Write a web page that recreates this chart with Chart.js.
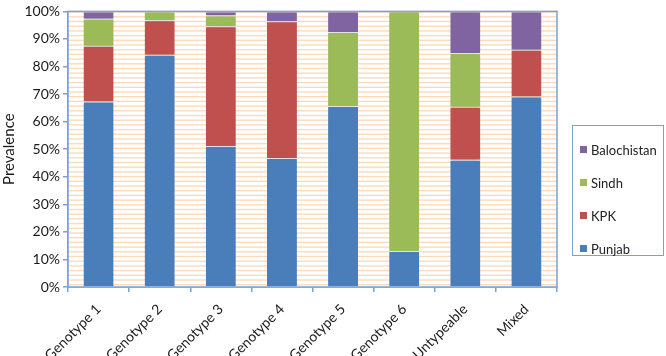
<!DOCTYPE html>
<html>
<head>
<meta charset="utf-8">
<script src="https://cdn.jsdelivr.net/npm/chart.js@4"></script>
<style>
  body { margin: 0; background: #fff; }
  #wrap { position: relative; width: 666px; height: 356px; }
  #legend {
    position: absolute; left: 572px; top: 125px; width: 92px; height: 131px;
    box-sizing: border-box; border: 1px solid #7aa0d4; background: #fff;
    font-family: Lato, "Liberation Sans", sans-serif; font-size: 13px; color: #222;
    padding-top: 7px;
  }
  #legend .item { display: flex; align-items: center; height: 33px; padding-left: 7px; }
  #legend .box { width: 7px; height: 7px; margin-right: 4px; }
</style>
</head>
<body>
<div id="wrap">
  <canvas id="chart" width="666" height="356"></canvas>
  <div id="legend"></div>
</div>
<script>
// categories
const genotypes = ['Genotype 1', 'Genotype 2', 'Genotype 3', 'Genotype 4', 'Genotype 5', 'Genotype 6', 'Untypeable', 'Mixed'];

// prevalence by province (%)
const punjab      = [67.3, 84.3, 51.2, 46.8, 65.7, 13.1, 46.2, 69.1];
const kpk         = [20.2, 12.5, 43.4, 49.6, 0, 0, 19.2, 17.0];
const sindh       = [9.8, 3.2, 3.9, 0, 26.8, 86.9, 19.5, 0];
const balochistan = [2.7, 0, 1.5, 3.6, 7.5, 0, 15.1, 13.9];

const yTicks = [0, 10, 20, 30, 40, 50, 60, 70, 80, 90, 100];

const axisBlue = '#7aa0d4';
const fontFamily = 'Lato, "Liberation Sans", sans-serif';

// striped plot area + blue frame, like the excel pattern fill
const plotBackground = {
    id: 'plotBackground',
    beforeDatasetsDraw(chart) {
        const { ctx, chartArea: a } = chart;
        ctx.save();
        ctx.fillStyle = '#fff';
        ctx.fillRect(a.left, a.top, a.right - a.left, a.bottom - a.top);
        ctx.fillStyle = '#fcdbbc';
        for (let y = a.bottom - 3; y > a.top; y -= 4.7) {
            ctx.fillRect(a.left, y, a.right - a.left, 1.4);
        }
        ctx.strokeStyle = axisBlue;
        ctx.lineWidth = 1.5;
        ctx.strokeRect(a.left, a.top, a.right - a.left, a.bottom - a.top);
        ctx.restore();
        // soft shadow on the bars
        ctx.save();
        ctx.shadowColor = 'rgba(0,0,0,0.28)';
        ctx.shadowBlur = 4;
    },
    afterDatasetsDraw(chart) {
        chart.ctx.restore();
    }
};

const series = [
    { label: 'Punjab', data: punjab, color: '#4a7ebb' },
    { label: 'KPK', data: kpk, color: '#c0504d' },
    { label: 'Sindh', data: sindh, color: '#9bbb59' },
    { label: 'Balochistan', data: balochistan, color: '#8064a2' }
];

const chart = new Chart(document.getElementById('chart'), {
    type: 'bar',
    data: {
        labels: genotypes,
        datasets: series.map(s => ({
            label: s.label,
            data: s.data,
            backgroundColor: s.color,
            borderColor: '#fff',
            borderWidth: { top: 1, bottom: 0, left: 0, right: 0 },
            borderSkipped: false,
            barPercentage: 0.49,
            categoryPercentage: 1
        }))
    },
    options: {
        responsive: false,
        animation: false,
        layout: { padding: { top: 0, right: 109, left: 0, bottom: 0 } },
        plugins: {
            legend: { display: false },
            tooltip: { enabled: false }
        },
        scales: {
            x: {
                stacked: true,
                grid: { drawOnChartArea: false, color: axisBlue, tickLength: 5, lineWidth: 1.5 },
                border: { color: axisBlue, width: 1.5 },
                ticks: {
                    color: '#1a1a1a', font: { family: fontFamily, size: 14 },
                    minRotation: 45, maxRotation: 45, padding: 9
                },
                afterFit(scale) { scale.height = 69; }
            },
            y: {
                stacked: true,
                min: 0, max: 100,
                afterBuildTicks(scale) { scale.ticks = yTicks.map(v => ({ value: v })); },
                grid: { drawOnChartArea: false, color: axisBlue, tickLength: 5, lineWidth: 1.5 },
                border: { color: axisBlue, width: 1.5 },
                ticks: {
                    color: '#1a1a1a', font: { family: fontFamily, size: 14 },
                    padding: 3,
                    callback: v => v + '%'
                },
                title: {
                    display: true, text: 'Prevalence', color: '#1a1a1a',
                    font: { family: fontFamily, size: 15 }, padding: { top: 0, bottom: 2 }
                },
                afterFit(scale) { scale.width = 68; }
            }
        }
    },
    plugins: [plotBackground]
});

// legend, top to bottom in reverse stacking order
const legend = document.getElementById('legend');
series.slice().reverse().forEach(s => {
    const item = document.createElement('div');
    item.className = 'item';
    item.innerHTML = '<span class="box" style="background:' + s.color + '"></span>' + s.label;
    legend.appendChild(item);
});
</script>
</body>
</html>
